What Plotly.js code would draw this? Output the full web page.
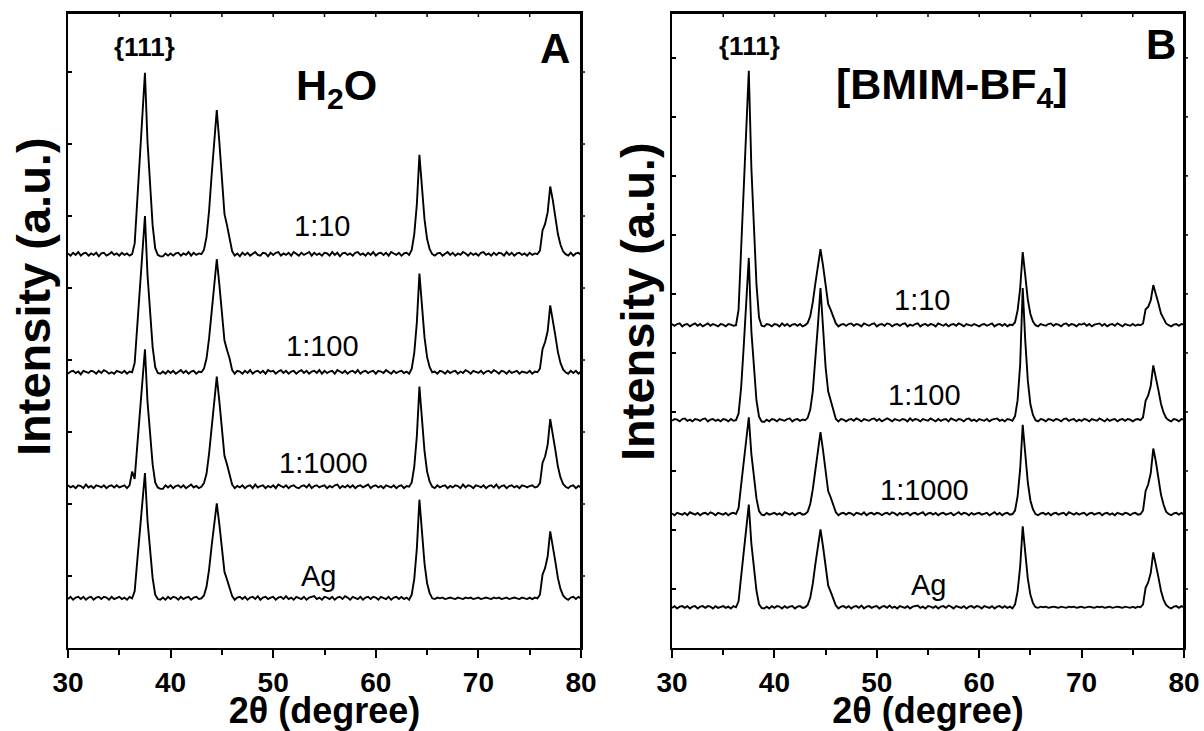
<!DOCTYPE html>
<html>
<head>
<meta charset="utf-8">
<script src="https://cdn.plot.ly/plotly-3.0.1.min.js"></script>
<style>html,body{margin:0;padding:0;background:#fff;overflow:hidden;}#chart{width:1204px;height:731px;}</style>
</head>
<body>
<div id="chart"></div>
<script>
// 2-theta scan positions (degree)
const twoTheta = [
30,30.25,30.5,30.75,31,31.25,31.5,31.75,32,32.25,
32.5,32.75,33,33.25,33.5,33.75,34,34.25,34.5,34.75,
35,35.25,35.5,35.75,36,36.25,36.5,36.75,37,37.25,
37.5,37.75,38,38.25,38.5,38.75,39,39.25,39.5,39.75,
40,40.25,40.5,40.75,41,41.25,41.5,41.75,42,42.25,
42.5,42.75,43,43.25,43.5,43.75,44,44.25,44.5,44.75,
45,45.25,45.5,45.75,46,46.25,46.5,46.75,47,47.25,
47.5,47.75,48,48.25,48.5,48.75,49,49.25,49.5,49.75,
50,50.25,50.5,50.75,51,51.25,51.5,51.75,52,52.25,
52.5,52.75,53,53.25,53.5,53.75,54,54.25,54.5,54.75,
55,55.25,55.5,55.75,56,56.25,56.5,56.75,57,57.25,
57.5,57.75,58,58.25,58.5,58.75,59,59.25,59.5,59.75,
60,60.25,60.5,60.75,61,61.25,61.5,61.75,62,62.25,
62.5,62.75,63,63.25,63.5,63.75,64,64.25,64.5,64.75,
65,65.25,65.5,65.75,66,66.25,66.5,66.75,67,67.25,
67.5,67.75,68,68.25,68.5,68.75,69,69.25,69.5,69.75,
70,70.25,70.5,70.75,71,71.25,71.5,71.75,72,72.25,
72.5,72.75,73,73.25,73.5,73.75,74,74.25,74.5,74.75,
75,75.25,75.5,75.75,76,76.25,76.5,76.75,77,77.25,
77.5,77.75,78,78.25,78.5,78.75,79,79.25,79.5,79.75,
80];

// Panel A (H2O) intensities, arbitrary units, before stacking offset
const a_1to10 = [
0.01,-0.02,0.02,-0.01,0.03,-0.02,0.01,0.02,-0.02,0.01,
-0.01,0.02,-0.03,0.01,0.02,-0.02,0.00,0.03,-0.01,0.01,
-0.02,0.02,-0.01,0.01,-0.02,0.00,0.15,0.76,1.36,1.94,
2.52,1.56,0.93,0.40,0.08,-0.01,-0.03,-0.03,0.01,-0.02,
0.01,-0.02,0.01,0.02,-0.02,0.01,-0.01,0.03,-0.02,0.02,
-0.01,0.01,0.00,0.06,0.24,0.60,1.10,1.60,2.00,1.56,
1.00,0.56,0.40,0.24,0.04,-0.02,0.01,-0.03,0.02,-0.01,
0.02,-0.02,0.01,0.03,-0.01,-0.02,0.02,0.01,-0.03,0.02,
-0.01,0.02,0.03,-0.02,0.01,-0.01,0.02,-0.02,0.03,0.01,
-0.02,0.02,-0.01,0.01,0.03,-0.02,0.02,-0.01,0.01,-0.02,
0.02,0.01,-0.02,0.03,-0.01,0.02,-0.03,0.01,0.02,-0.01,
0.01,-0.02,0.02,0.03,-0.01,0.01,-0.02,0.02,-0.01,0.03,
-0.02,0.01,0.02,-0.01,0.02,-0.02,0.03,0.01,-0.01,0.02,
-0.02,0.01,0.02,-0.01,0.06,0.28,0.69,1.38,0.94,0.48,
0.21,0.07,0.00,-0.02,0.01,0.02,-0.02,0.01,0.03,-0.01,
0.02,-0.02,0.01,-0.01,0.03,0.01,-0.02,0.02,-0.01,0.01,
-0.02,0.02,0.03,-0.01,0.01,-0.02,0.02,-0.01,0.02,0.01,
-0.02,0.03,-0.01,0.02,-0.02,0.01,0.02,-0.01,0.01,-0.02,
0.02,-0.01,0.01,0.00,0.05,0.33,0.42,0.58,0.94,0.75,
0.52,0.28,0.13,0.04,0.00,-0.02,0.02,-0.02,0.01,0.02,
-0.01];

const a_1to100 = [
-0.02,0.01,0.02,-0.01,0.01,-0.03,0.02,0.01,-0.01,0.02,
0.01,-0.02,0.02,-0.01,0.03,0.01,-0.02,0.00,-0.02,0.02,
0.01,-0.01,0.02,-0.02,0.01,0.00,0.13,0.65,1.17,1.67,
2.17,1.35,0.80,0.35,0.07,-0.01,-0.02,0.01,-0.02,0.02,
-0.01,0.02,-0.02,0.01,0.03,-0.01,0.02,-0.02,0.01,0.02,
-0.02,0.01,0.00,0.05,0.19,0.47,0.86,1.26,1.57,1.22,
0.79,0.44,0.31,0.19,0.03,-0.02,0.02,0.01,-0.02,0.02,
-0.01,0.03,-0.02,0.01,0.02,-0.01,0.02,-0.02,0.03,0.01,
0.02,-0.02,0.01,0.03,-0.01,0.02,-0.02,0.01,0.02,-0.02,
0.01,0.03,-0.01,0.02,-0.02,0.01,0.02,-0.01,0.03,-0.02,
0.02,-0.01,0.01,0.02,-0.02,0.03,0.01,-0.01,0.02,-0.02,
0.01,0.02,-0.01,0.03,-0.02,0.01,0.02,-0.01,0.01,0.02,
-0.02,0.02,0.01,-0.01,0.03,0.01,-0.02,0.02,-0.01,0.01,
0.02,-0.01,0.01,-0.02,0.05,0.27,0.69,1.37,0.93,0.48,
0.21,0.07,0.00,0.01,-0.02,0.02,0.01,-0.02,0.02,-0.01,
0.01,0.02,-0.02,0.01,-0.01,0.03,0.01,-0.02,0.02,0.00,
-0.01,0.02,-0.02,0.01,0.02,-0.01,0.03,0.01,-0.02,0.02,
0.01,-0.02,0.02,-0.01,0.01,0.02,-0.02,0.01,0.00,-0.01,
0.02,-0.02,0.01,0.00,0.05,0.32,0.42,0.57,0.93,0.74,
0.51,0.28,0.13,0.04,0.00,-0.02,0.02,-0.01,0.02,-0.02,
0.01];

const a_1to1000 = [
0.02,-0.01,0.01,-0.02,0.02,0.01,-0.02,0.03,-0.01,0.01,
-0.02,0.02,0.01,-0.01,0.02,-0.02,0.01,0.02,-0.01,0.02,
-0.01,0.01,0.02,-0.02,0.02,0.21,0.11,0.57,1.03,1.47,
1.91,1.18,0.71,0.31,0.06,-0.01,-0.03,-0.03,0.02,-0.01,
0.02,-0.02,0.01,0.02,-0.01,0.02,-0.02,0.01,0.03,-0.01,
0.01,-0.02,0.00,0.05,0.18,0.46,0.84,1.22,1.53,1.19,
0.77,0.43,0.31,0.18,0.03,-0.02,0.01,-0.01,0.02,-0.02,
0.01,0.02,-0.02,0.03,-0.01,0.01,0.02,-0.02,0.01,-0.01,
0.02,-0.02,0.03,0.01,-0.01,0.02,-0.02,0.01,0.02,-0.01,
-0.02,0.01,0.02,-0.01,0.03,-0.02,0.01,0.02,-0.01,0.01,
0.02,-0.02,0.01,-0.01,0.02,0.03,-0.02,0.01,-0.01,0.02,
-0.01,0.02,-0.02,0.01,0.02,-0.01,0.01,0.03,-0.02,0.01,
0.02,-0.01,0.01,-0.02,0.02,0.01,-0.01,0.02,-0.02,0.01,
0.02,-0.02,0.01,0.00,0.06,0.28,0.70,1.39,0.95,0.49,
0.21,0.07,0.00,-0.02,0.02,-0.01,0.01,0.02,-0.02,0.01,
-0.01,0.02,0.01,-0.02,0.03,-0.01,0.02,0.01,-0.02,0.02,
0.01,-0.01,0.02,-0.02,0.01,0.02,-0.01,0.03,-0.02,0.01,
0.02,-0.02,0.01,0.02,-0.01,0.01,-0.02,0.02,0.01,-0.01,
0.01,0.02,-0.01,0.00,0.05,0.33,0.42,0.58,0.94,0.75,
0.51,0.28,0.13,0.04,0.00,-0.02,0.01,0.02,-0.02,0.01,
-0.01];

// Pure Ag reference pattern (same measurement shown in both panels)
const ag = [
-0.01,0.02,-0.02,0.01,0.02,-0.01,0.02,-0.02,0.01,0.02,
-0.02,0.01,0.02,-0.01,0.02,0.01,-0.02,0.02,-0.01,0.01,
0.02,-0.01,0.01,-0.02,0.02,0.00,0.10,0.52,0.94,1.34,
1.74,1.08,0.64,0.28,0.05,-0.01,-0.02,0.01,-0.02,0.02,
-0.01,0.02,0.01,-0.02,0.02,-0.01,0.01,0.02,-0.02,0.01,
0.02,-0.01,0.00,0.04,0.16,0.40,0.73,1.06,1.32,1.03,
0.66,0.37,0.26,0.16,0.03,-0.02,0.01,0.02,-0.01,0.02,
-0.02,0.01,0.02,-0.01,0.03,-0.02,0.01,0.02,-0.01,0.01,
0.02,-0.02,0.01,0.02,-0.01,0.03,-0.01,0.01,-0.02,0.02,
0.01,-0.01,0.02,-0.02,0.01,0.02,0.03,-0.01,0.01,-0.02,
0.02,0.01,-0.01,0.02,-0.02,0.01,0.02,-0.01,0.03,0.01,
-0.02,0.02,0.01,-0.01,0.02,-0.02,0.01,0.02,-0.01,0.02,
0.01,-0.02,0.02,0.01,-0.01,0.02,-0.02,0.01,0.02,-0.01,
0.02,-0.01,0.01,-0.02,0.05,0.27,0.69,1.37,0.93,0.48,
0.21,0.07,0.00,-0.01,0.01,0.00,0.01,-0.01,0.00,0.01,
0.00,-0.01,0.01,0.00,-0.01,0.01,0.00,0.01,-0.01,0.00,
0.01,-0.01,0.00,0.01,0.00,-0.01,0.01,0.00,0.01,-0.01,
0.00,0.01,-0.01,0.00,0.01,0.00,-0.01,0.01,0.00,-0.01,
0.01,-0.01,0.01,0.00,0.05,0.33,0.42,0.58,0.93,0.74,
0.51,0.28,0.13,0.04,0.00,-0.02,0.01,0.02,-0.01,0.02,
0.00];

// Panel B ([BMIM-BF4]) intensities
const b_1to10 = [
0.02,-0.01,0.02,0.03,-0.02,0.01,0.02,-0.02,0.01,0.03,
-0.01,0.02,-0.02,0.01,0.03,-0.01,0.02,0.00,-0.02,0.02,
0.01,-0.02,0.02,0.01,-0.01,0.00,0.26,1.29,2.33,3.32,
4.31,2.67,1.59,0.69,0.13,-0.01,-0.02,0.02,0.01,-0.02,
0.02,0.01,-0.02,0.03,-0.01,0.02,-0.02,0.01,0.02,-0.01,
0.02,-0.02,0.00,0.04,0.15,0.39,0.71,1.03,1.29,1.01,
0.65,0.36,0.26,0.15,0.03,-0.02,0.01,0.02,-0.01,0.02,
0.03,-0.01,0.02,0.01,-0.02,0.03,0.01,-0.01,0.02,0.03,
-0.02,0.01,0.02,-0.01,0.03,0.02,-0.02,0.01,0.02,-0.01,
0.02,0.03,-0.02,0.01,-0.01,0.02,0.03,-0.02,0.01,0.02,
-0.01,0.02,0.01,-0.02,0.03,0.01,-0.01,0.02,-0.02,0.01,
0.02,-0.01,0.03,0.01,-0.02,0.02,0.01,-0.01,0.02,0.00,
-0.02,0.01,0.02,-0.01,0.01,0.03,-0.02,0.01,0.02,-0.01,
0.02,-0.02,0.01,0.00,0.05,0.25,0.62,1.24,0.84,0.43,
0.19,0.06,0.00,-0.02,0.02,0.01,-0.01,0.02,0.03,-0.01,
0.02,0.01,-0.02,0.02,0.03,-0.01,0.02,0.01,-0.02,0.02,
0.01,0.03,-0.01,0.02,-0.02,0.01,0.02,0.03,-0.01,0.02,
-0.02,0.01,0.02,-0.01,0.03,0.01,-0.02,0.02,0.01,-0.01,
0.02,-0.01,0.01,0.00,0.03,0.27,0.31,0.42,0.68,0.54,
0.37,0.20,0.10,0.03,0.00,-0.02,0.01,0.02,-0.01,0.02,
0.01];

const b_1to100 = [
-0.01,0.02,0.01,-0.02,0.02,0.03,-0.01,0.01,-0.02,0.02,
0.01,-0.01,0.02,0.03,-0.02,0.01,0.02,-0.01,0.01,-0.02,
0.02,0.01,-0.02,0.02,-0.01,0.00,0.11,0.55,1.24,1.98,
2.75,1.51,0.83,0.33,0.06,-0.02,-0.03,0.01,-0.02,0.02,
0.01,-0.02,0.02,0.01,-0.01,0.02,0.03,-0.02,0.01,0.02,
-0.01,0.01,0.00,0.04,0.18,0.49,1.01,1.61,2.24,1.52,
0.90,0.49,0.34,0.18,0.02,-0.02,0.02,0.01,-0.02,0.01,
0.02,-0.01,0.03,0.01,-0.02,0.02,0.01,-0.01,0.02,0.03,
-0.01,0.02,-0.02,0.01,0.03,0.01,-0.02,0.02,0.01,-0.01,
0.02,0.01,-0.02,0.03,-0.01,0.02,0.01,-0.02,0.02,0.01,
-0.01,0.03,0.01,-0.02,0.02,-0.01,0.01,0.02,-0.02,0.03,
0.01,-0.01,0.02,0.01,-0.02,0.02,0.03,-0.01,0.01,-0.02,
0.02,0.01,-0.01,0.02,-0.02,0.01,0.02,0.03,-0.01,0.01,
-0.02,0.02,0.01,-0.01,0.07,0.34,0.94,2.24,1.34,0.67,
0.27,0.09,0.00,-0.02,0.02,0.01,-0.02,0.02,0.01,-0.01,
0.02,0.01,-0.02,0.02,0.03,-0.01,0.01,0.02,-0.02,0.01,
-0.01,0.02,0.01,-0.02,0.02,0.01,-0.01,0.03,0.01,-0.02,
0.02,-0.01,0.01,0.02,-0.02,0.01,0.02,-0.01,0.02,0.01,
-0.02,0.01,0.02,0.00,0.05,0.33,0.42,0.58,0.93,0.74,
0.51,0.28,0.13,0.04,0.00,-0.02,0.02,0.01,-0.02,0.02,
0.01];

const b_1to1000 = [
0.01,-0.02,0.02,0.01,-0.01,0.02,-0.02,0.03,0.01,-0.01,
0.02,-0.02,0.01,0.02,-0.01,0.03,0.01,-0.02,0.02,0.01,
-0.01,0.02,-0.02,0.01,0.02,0.00,0.10,0.49,0.89,1.26,
1.64,1.02,0.61,0.26,0.05,-0.01,-0.02,0.02,-0.01,0.01,
0.02,-0.01,0.01,-0.02,0.03,0.01,-0.01,0.02,-0.02,0.01,
0.02,-0.01,0.00,0.04,0.17,0.42,0.76,1.11,1.39,1.08,
0.70,0.39,0.28,0.17,0.03,-0.02,0.01,0.02,-0.01,0.02,
0.01,-0.02,0.02,0.01,-0.01,0.03,-0.02,0.01,0.02,-0.01,
0.02,0.01,-0.02,0.01,0.02,-0.01,0.03,0.01,-0.02,0.02,
-0.01,0.01,0.02,-0.02,0.01,0.02,-0.01,0.01,0.03,-0.02,
0.01,0.02,-0.01,0.02,-0.02,0.01,0.02,-0.01,0.01,0.02,
-0.02,0.01,0.03,-0.01,0.02,0.01,-0.02,0.02,-0.01,0.01,
0.02,-0.01,0.01,0.02,-0.02,0.01,0.03,-0.01,0.02,-0.02,
0.01,0.02,-0.01,0.00,0.06,0.30,0.76,1.51,1.03,0.53,
0.23,0.08,0.00,-0.02,0.01,0.02,-0.01,0.02,-0.02,0.01,
0.02,-0.01,0.01,0.02,-0.02,0.03,0.01,-0.01,0.02,-0.01,
0.01,0.02,-0.02,0.01,0.02,-0.01,0.01,0.02,-0.02,0.01,
0.02,-0.01,0.01,-0.02,0.02,0.01,-0.01,0.02,0.01,-0.02,
0.01,0.02,-0.01,0.00,0.06,0.39,0.50,0.69,1.11,0.89,
0.61,0.33,0.16,0.04,0.00,-0.02,0.01,0.02,-0.01,0.02,
-0.01];

// Sample labels and stacking offsets (top to bottom)
const sampleLabels = ["1:10", "1:100", "1:1000", "Ag"];
const offsetsA = [5.47, 3.83, 2.24, 0.69];
const offsetsB = [5.47, 3.86, 2.27, 0.69];
const seriesA = [a_1to10, a_1to100, a_1to1000, ag];
const seriesB = [b_1to10, b_1to100, b_1to1000, ag];
const xTickVals = [30, 40, 50, 60, 70, 80];
const topTickVals = [35, 40, 45, 50, 55, 60, 65, 70, 75];
const rightTickValsA = [1, 2, 3, 4, 5, 6, 7, 8];
const rightTickValsB = [1, 2, 3, 4, 5, 6, 7, 8, 9, 10];

const FONT = "Liberation Sans, Arial, Helvetica, sans-serif";
const LW = 1.9;

const traces = [];
seriesA.forEach((s, k) => traces.push({
  x: twoTheta, y: s.map(v => v + offsetsA[k]), xaxis: "x", yaxis: "y",
  type: "scatter", mode: "lines", name: "H2O " + sampleLabels[k],
  line: {color: "#000", width: LW}, hoverinfo: "skip", cliponaxis: true
}));
seriesB.forEach((s, k) => traces.push({
  x: twoTheta, y: s.map(v => v + offsetsB[k]), xaxis: "x2", yaxis: "y2",
  type: "scatter", mode: "lines", name: "BMIM-BF4 " + sampleLabels[k],
  line: {color: "#000", width: LW}, hoverinfo: "skip", cliponaxis: true
}));

const domA = [68/1204, 581/1204];
const domB = [672/1204, 1184/1204];

function bottomX(dom, anchor) {
  return {
    domain: dom, anchor: anchor, range: [30, 80],
    tickmode: "array", tickvals: xTickVals,
    ticks: "outside", ticklen: 8, tickwidth: 2, tickcolor: "#000",
    minor: {dtick: 5, tick0: 30, ticks: "outside", ticklen: 5, tickwidth: 2, tickcolor: "#000"},
    showline: true, linewidth: 2, linecolor: "#000", mirror: true,
    showgrid: false, zeroline: false,
    tickfont: {family: FONT, size: 28, color: "#000", weight: 700},
    title: {text: "2\u03b8 (degree)", standoff: 4, font: {family: FONT, size: 36, color: "#000", weight: 700}}
  };
}
function leftY(anchor, top) {
  return {
    domain: [0, 1], anchor: anchor, range: [0, top],
    tick0: 0, dtick: 1, ticks: "inside", ticklen: 4, tickwidth: 1.5, tickcolor: "#000",
    showticklabels: false, showline: true, linewidth: 2, linecolor: "#000", mirror: true,
    showgrid: false, zeroline: false
  };
}

const topA = 8.82, topB = 10.76;

// explicit frame edges (paper coordinates) + mirrored tick marks (top: inside, right: outside)
const shapes = [];
[[domA, "x", "y", rightTickValsA], [domB, "x2", "y2", rightTickValsB]].forEach(([dom, xa, ya, rvals]) => {
  shapes.push({type: "line", xref: "paper", yref: "paper", x0: dom[0], x1: dom[1], y0: 1, y1: 1,
    line: {color: "#000", width: 2}, layer: "above"});
  shapes.push({type: "line", xref: "paper", yref: "paper", x0: dom[1], x1: dom[1], y0: 0, y1: 1,
    line: {color: "#000", width: 2}, layer: "above"});
  topTickVals.forEach(v => shapes.push({type: "line", xref: xa, yref: "paper",
    x0: v, x1: v, y0: 1, y1: 1 - 4/635, line: {color: "#000", width: 1.5}, layer: "above"}));
  rvals.forEach(v => shapes.push({type: "line", xref: "paper", yref: ya,
    x0: dom[1], x1: dom[1] + 4/1204, y0: v, y1: v, line: {color: "#000", width: 1.5}, layer: "above"}));
});

function ann(xref, yref, x, y, text, size, bold) {
  return {xref: xref, yref: yref, x: x, y: y, text: text, showarrow: false,
    xanchor: "center", yanchor: "middle",
    font: {family: FONT, size: size, color: "#000", weight: bold ? 700 : 400}};
}

const annotations = [
  // panel A
  ann("x", "y", 37.49, 8.35, "{111}", 26, true),
  ann("x", "y", 77.47, 8.33, "A", 42, true),
  ann("x", "y", 56.2, 7.78, "H<sub>2</sub>O", 43, true),
  ann("x", "y", 54.8, 5.86, sampleLabels[0], 29, false),
  ann("x", "y", 54.8, 4.19, sampleLabels[1], 29, false),
  ann("x", "y", 54.95, 2.57, sampleLabels[2], 29, false),
  ann("x", "y", 54.4, 1.0, sampleLabels[3], 29, false),
  // panel B
  ann("x2", "y2", 37.55, 10.2, "{111}", 26, true),
  ann("x2", "y2", 77.76, 10.23, "B", 42, true),
  ann("x2", "y2", 57.39, 9.51, "[BMIM-BF<sub>4</sub>]", 43, true),
  ann("x2", "y2", 54.37, 5.9, sampleLabels[0], 29, false),
  ann("x2", "y2", 54.66, 4.29, sampleLabels[1], 29, false),
  ann("x2", "y2", 54.66, 2.68, sampleLabels[2], 29, false),
  ann("x2", "y2", 55.05, 1.07, sampleLabels[3], 29, false),
  // y-axis titles
  Object.assign(ann("paper", "paper", 33/1204, 1 - 284/635, "Intensity (a.u.)", 47, true), {textangle: -90}),
  Object.assign(ann("paper", "paper", 637/1204, 1 - 289/635, "Intensity (a.u.)", 47, true), {textangle: -90})
];

const layout = {
  width: 1204, height: 731,
  margin: {l: 0, r: 0, t: 13, b: 83},
  paper_bgcolor: "#fff", plot_bgcolor: "#fff",
  showlegend: false,
  xaxis: bottomX(domA, "y"),
  yaxis: leftY("x", topA),
  xaxis2: bottomX(domB, "y2"),
  yaxis2: leftY("x2", topB),
  shapes: shapes,
  annotations: annotations
};

Plotly.newPlot("chart", traces, layout, {displayModeBar: false, staticPlot: true});
</script>
</body>
</html>
